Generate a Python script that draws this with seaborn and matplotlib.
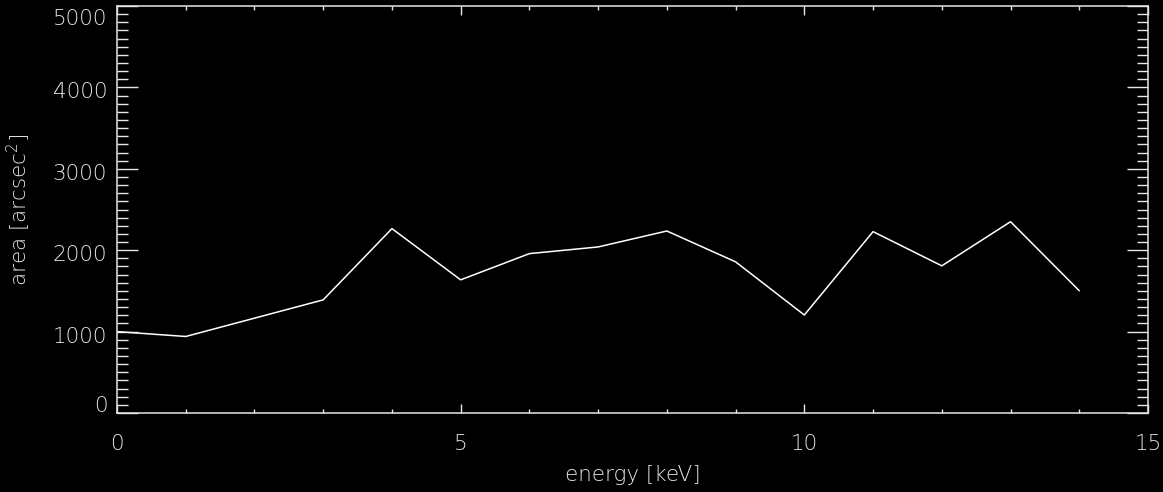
import matplotlib
matplotlib.use("Agg")
import matplotlib.pyplot as plt
import matplotlib.transforms as mtransforms
import seaborn as sns
import pandas as pd
from matplotlib.ticker import MultipleLocator

# values
energy = [0, 1, 2, 3, 4, 5, 6, 7, 8, 9, 10, 11, 12, 13, 14]
area = [1000, 940, 1165, 1390, 2265, 1636, 1958, 2040, 2236, 1857,
        1204, 2228, 1808, 2350, 1502]
x_ticks = [0, 5, 10, 15]
y_ticks = [0, 1000, 2000, 3000, 4000, 5000]

sns.set_theme(style="dark")
plt.rcParams['font.family'] = ['DejaVu Sans']
plt.rcParams['font.weight'] = 'light'
plt.rcParams['mathtext.default'] = 'regular'

fg = "#e6e6e6"

def main():
    df = pd.DataFrame({"energy": energy, "area": area})

    fig = plt.figure(figsize=(11.63, 4.92), dpi=100, facecolor="black")
    ax = fig.add_axes([117 / 1163, 1 - 413 / 492, (1148 - 117) / 1163, (413 - 6) / 492])
    ax.set_facecolor("black")

    sns.lineplot(data=df, x="energy", y="area", ax=ax, color="white", linewidth=1.1)

    ax.set_xlim(0, 15)
    ax.set_ylim(0, 5000)
    ax.set_xticks(x_ticks)
    ax.set_yticks(y_ticks)
    ax.xaxis.set_minor_locator(MultipleLocator(1))
    ax.yaxis.set_minor_locator(MultipleLocator(100))
    ax.grid(False)

    for s in ax.spines.values():
        s.set_color(fg)
        s.set_linewidth(1.1)
        s.set_visible(True)

    fs = 15.5
    ax.tick_params(axis="x", which="both", direction="in", top=True, bottom=True,
                   colors=fg, labelcolor=fg, labelsize=fs, width=1.0)
    ax.tick_params(axis="x", which="major", length=6.5, pad=15)
    ax.tick_params(axis="x", which="minor", length=3.2)
    ax.tick_params(axis="y", which="both", direction="in", left=True, right=True,
                   colors=fg, labelcolor=fg, labelsize=fs, width=1.0)
    ax.tick_params(axis="y", which="major", length=15, pad=7)
    ax.tick_params(axis="y", which="minor", length=8)

    # IDL keeps the end labels inside the plot height
    fig.canvas.draw()
    labels = ax.get_yticklabels()
    down = mtransforms.ScaledTranslation(0, -3 / 100, fig.dpi_scale_trans)
    for lab in labels:
        lab.set_transform(lab.get_transform() + down)
        lab.set_fontweight("light")
    labels[0].set_va("bottom")
    labels[-1].set_va("top")
    for lab in ax.get_xticklabels():
        lab.set_fontweight("light")

    ax.set_xlabel("energy [keV]", color=fg, fontsize=fs, labelpad=8, fontweight="light")
    ax.set_ylabel(r"area [arcsec$^2$]", color=fg, fontsize=fs, labelpad=14, fontweight="light")

    fig.savefig("out.png", dpi=100, facecolor="black")

if __name__ == "__main__":
    main()
